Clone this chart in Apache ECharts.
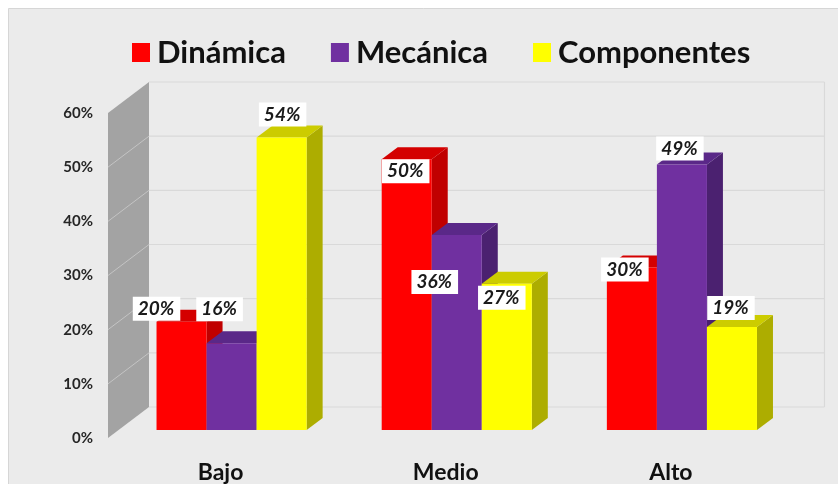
<!DOCTYPE html>
<html>
<head>
<meta charset="utf-8">
<script src="https://cdn.jsdelivr.net/npm/echarts@6/dist/echarts.min.js"></script>
<style>
html,body{margin:0;padding:0;background:#fff;}
#chart{width:838px;height:484px;}
</style>
</head>
<body>
<div id="chart"></div>
<script>
// ---- data ----
const categories = ['Bajo', 'Medio', 'Alto'];
const seriesNames = ['Dinámica', 'Mecánica', 'Componentes'];
const dinamica = [20, 50, 30];
const mecanica = [16, 36, 49];
const componentes = [54, 27, 19];
const yTicks = [0, 10, 20, 30, 40, 50, 60];

// ---- styling / layout constants ----
const FONT = 'Lato, "Open Sans", sans-serif';
const BAR_DX = 11, BAR_DY = -8;      // bar front plane offset from axis front plane
const DEPTH_DX = 16, DEPTH_DY = -12; // bar depth
const WALL_DX = 41, WALL_DY = -31;   // back wall offset
const palette = [
  { front: '#ff0000', side: '#c00000', top: '#d40000' },
  { front: '#7030a0', side: '#4b2170', top: '#5a2888' },
  { front: '#ffff00', side: '#adad00', top: '#cccc00' }
];
// manual label nudges (px) relative to bar centre / bar top, per series & category
const labelNudge = [
  [[-25, -13], [-1, 12], [-7, 2]],
  [[-12, -34], [-22, 47], [-2, -16]],
  [[1, -23], [-5, 14], [-1, -19]]
];

const chart = echarts.init(document.getElementById('chart'), null, { renderer: 'canvas' });

function wallRender(params, api) {
  const cs = params.coordSys;
  const left = cs.x, right = cs.x + cs.width;
  const children = [];
  const yMin = yTicks[0], yMax = yTicks[yTicks.length - 1];
  const fb = api.coord([0, yMin])[1];
  const ft = api.coord([0, yMax])[1];
  // side wall
  children.push({
    type: 'polygon',
    shape: { points: [[left, fb], [left + WALL_DX, fb + WALL_DY], [left + WALL_DX, ft + WALL_DY], [left, ft]] },
    style: { fill: '#a3a3a3' }
  });
  yTicks.forEach(function (t) {
    const y = api.coord([0, t])[1];
    if (t > yMin && t < yMax) {
      children.push({
        type: 'line',
        shape: { x1: left, y1: y, x2: left + WALL_DX, y2: y + WALL_DY },
        style: { stroke: '#c4c4c4', lineWidth: 1 }
      });
    }
    children.push({
      type: 'line',
      shape: { x1: left + WALL_DX, y1: y + WALL_DY, x2: right + WALL_DX, y2: y + WALL_DY },
      style: { stroke: '#d9d9d9', lineWidth: 1.2 }
    });
  });
  children.push({
    type: 'line',
    shape: { x1: right + WALL_DX, y1: ft + WALL_DY, x2: right + WALL_DX, y2: fb + WALL_DY },
    style: { stroke: '#d9d9d9', lineWidth: 1.2 }
  });
  return { type: 'group', children: children };
}

function makeBarRender(k) {
  return function (params, api) {
    const idx = api.value(0), v = api.value(1);
    const base = api.coord([idx, 0]);
    const topP = api.coord([idx, v]);
    const band = api.size([1, 0])[0];
    const w = band / 4.5;
    const x0 = base[0] + BAR_DX - 1.5 * w + k * w;
    const yb = base[1] + BAR_DY;
    const yt = topP[1] + BAR_DY;
    const c = palette[k];
    const nudge = labelNudge[k][idx];
    return {
      type: 'group',
      children: [
        { type: 'polygon', shape: { points: [[x0 + w, yt], [x0 + w + DEPTH_DX, yt + DEPTH_DY], [x0 + w + DEPTH_DX, yb + DEPTH_DY], [x0 + w, yb]] }, style: { fill: c.side } },
        { type: 'polygon', shape: { points: [[x0, yt], [x0 + DEPTH_DX, yt + DEPTH_DY], [x0 + w + DEPTH_DX, yt + DEPTH_DY], [x0 + w, yt]] }, style: { fill: c.top } },
        { type: 'rect', shape: { x: x0, y: yt, width: w, height: yb - yt }, style: { fill: c.front } },
        {
          type: 'text', z2: 100,
          x: x0 + w / 2 + nudge[0], y: yt + nudge[1],
          style: {
            text: v + '%', align: 'center', verticalAlign: 'middle',
            font: 'italic bold 19px ' + FONT, fill: '#1a1a1a',
            backgroundColor: '#ffffff', padding: [3, 6, 2, 5]
          }
        }
      ]
    };
  };
}

const valueSets = [dinamica, mecanica, componentes];
const barSeries = valueSets.map(function (vals, k) {
  return {
    type: 'custom',
    name: seriesNames[k],
    coordinateSystem: 'cartesian2d',
    renderItem: makeBarRender(k),
    itemStyle: { color: palette[k].front },
    encode: { x: 0, y: 1 },
    data: vals.map(function (v, i) { return [i, v]; }),
    clip: false,
    z: 3 + k
  };
});

const option = {
  animation: false,
  backgroundColor: '#ffffff',
  graphic: [{
    type: 'rect', z: -10, silent: true,
    shape: { x: 8.5, y: 8.5, width: 840, height: 490 },
    style: { fill: '#ebebeb', stroke: '#d6d6d6', lineWidth: 1 }
  }],
  legend: {
    data: seriesNames,
    left: 132, top: 37, padding: 0,
    icon: 'rect', itemWidth: 18, itemHeight: 19, itemGap: 45,
    textStyle: { fontFamily: FONT, fontWeight: 'bold', fontSize: 31, color: '#111', padding: [0, 0, 0, 2] }
  },
  grid: { left: 108, right: 54.5, top: 113, bottom: 46 },
  xAxis: {
    type: 'category', data: categories,
    axisLine: { show: false }, axisTick: { show: false }, splitLine: { show: false },
    axisLabel: { margin: 23, fontFamily: FONT, fontWeight: 'bold', fontSize: 23, color: '#111' }
  },
  yAxis: {
    type: 'value', min: yTicks[0], max: yTicks[yTicks.length - 1], interval: 10,
    axisLine: { show: false }, axisTick: { show: false }, splitLine: { show: false },
    axisLabel: { margin: 15, formatter: '{value}%', fontFamily: FONT, fontWeight: 'bold', fontSize: 15, color: '#262626' }
  },
  series: [{
    type: 'custom',
    coordinateSystem: 'cartesian2d',
    renderItem: wallRender,
    data: [[0, 0]],
    encode: { x: 0, y: 1 },
    clip: false, silent: true, z: 1
  }].concat(barSeries)
};
chart.setOption(option);
</script>
</body>
</html>
